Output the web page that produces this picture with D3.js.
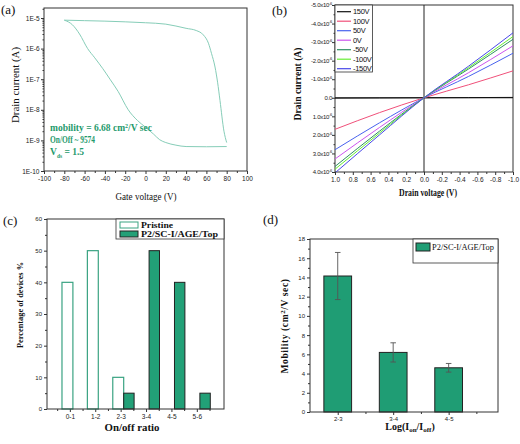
<!DOCTYPE html>
<html><head><meta charset="utf-8">
<script src="https://cdn.jsdelivr.net/npm/d3@7"></script>
<style>body{margin:0;background:#fff}svg{display:block}</style>
</head><body>
<svg id="c" width="520" height="444"></svg>
<script>
// ---------- DATA ----------
// (a) transfer curve
const fwdV = [-80,-60,-40,-20,0,20,40,50,57,62,65,68.5,71,73.4,77.3,80];
const fwdI = [8.5e-6,8.2e-6,7.9e-6,7.5e-6,7e-6,6.3e-6,4.6e-6,3.9e-6,2.8e-6,1.5e-6,7e-7,2.5e-7,8e-8,2e-8,2e-9,8.5e-10];
const revV = [-80,-72,-65,-57,-50,-42,-35,-27,-17,-8,0,8,14,20,30,40,60,80];
const revI = [8.5e-6,6e-6,3e-6,1e-6,5e-7,2.2e-7,1e-7,4e-8,1e-8,4.5e-9,2.7e-9,1.6e-9,1.05e-9,8.5e-10,7e-10,6.3e-10,6.2e-10,6.3e-10];
const aTicksX = [-100,-80,-60,-40,-20,0,20,40,60,80,100];
const aTicksY = [1e-10,1e-9,1e-8,1e-7,1e-6,1e-5];
// (b) output curves
const drainV = [1.0,0.5,0,-0.5,-1.0];
const gateLabels = ["150V","100V","50V","0V","-50V","-100V","-150V"];
const gateColors = ["#111111","#f0507a","#4862ee","#cc55ee","#2e8f62","#66ee33","#4848e8"];
const drainI = [
  [0.02e-6,0.01e-6,0,-0.01e-6,-0.02e-6],
  [1.7e-6,0.8e-6,0,-0.7e-6,-1.45e-6],
  [2.8e-6,1.35e-6,0,-1.15e-6,-2.4e-6],
  [3.3e-6,1.6e-6,0,-1.35e-6,-2.8e-6],
  [3.7e-6,1.8e-6,0,-1.55e-6,-3.15e-6],
  [3.85e-6,1.9e-6,0,-1.62e-6,-3.3e-6],
  [4.05e-6,2.0e-6,0,-1.7e-6,-3.5e-6]
];
const bTicksX = [1.0,0.8,0.6,0.4,0.2,0.0,-0.2,-0.4,-0.6,-0.8,-1.0];
const bTicksY = [-5e-6,-4e-6,-3e-6,-2e-6,-1e-6,0,1e-6,2e-6,3e-6,4e-6];
// (c) histogram
const ratioCats = ["0-1","1-2","2-3","3-4","4-5","5-6"];
const pristinePct = [40,50,10,0,0,0];
const treatedPct = [0,0,5,50,40,5];
const cTicksY = [0,10,20,30,40,50,60];
// (d) mobility
const logCats = ["2-3","3-4","4-5"];
const mobility = [14.15,6.2,4.6];
const mobErrHi = [16.6,7.2,5.05];
const mobErrLo = [11.7,5.2,4.15];
const dTicksY = [0,2,4,6,8,10,12,14,16,18];

// ---------- DRAW ----------
const svg = d3.select("#c");
const SANS = "Liberation Sans, Arial, sans-serif";
const SERIF = "Liberation Serif, Times New Roman, serif";
const green = "#22a077";

function frame(x0,y0,x1,y1){
  svg.append("rect").attr("x",x0).attr("y",y0).attr("width",x1-x0).attr("height",y1-y0)
    .attr("fill","none").attr("stroke","#333").attr("stroke-width",1);
}
function styleAxis(g,fs){
  g.select(".domain").remove();
  g.selectAll("line").attr("stroke","#333");
  g.selectAll("text").attr("font-family",SANS).attr("font-size",fs||6.5).attr("fill","#222");
}
function label(txt,x,y,opts){
  opts=opts||{};
  const t=svg.append("text").attr("x",x).attr("y",y).text(txt)
   .attr("font-family",opts.family||SERIF).attr("font-size",opts.size||10)
   .attr("font-weight",opts.weight||"normal").attr("fill",opts.fill||"#111")
   .attr("text-anchor",opts.anchor||"middle");
  if(opts.rotate) t.attr("transform",`rotate(-90,${x},${y})`);
  if(opts.len) t.attr("textLength",opts.len).attr("lengthAdjust","spacingAndGlyphs");
  return t;
}

// ===== Panel (a) =====
const xA = d3.scaleLinear().domain([-100,100]).range([44,247]);
const yA = d3.scaleLog().domain([1e-10, Math.pow(10,-4.673)]).range([171,8]);
{
  const gx = svg.append("g").attr("transform","translate(0,171)")
    .call(d3.axisBottom(xA).tickValues(aTicksX).tickSize(3).tickPadding(2).tickFormat(d=>d));
  styleAxis(gx);
  const minorX = d3.range(-90,100,20);
  styleAxis(svg.append("g").attr("transform","translate(0,171)")
    .call(d3.axisBottom(xA).tickValues(minorX).tickSize(2).tickFormat("")));
  const gy = svg.append("g").attr("transform","translate(44,0)")
    .call(d3.axisLeft(yA).tickValues(aTicksY).tickSize(3).tickPadding(1.5)
    .tickFormat(d=>"1E"+Math.round(Math.log10(d))));
  styleAxis(gy);
  const minorY=[];
  for(let e=-10;e<=-5;e++) for(let k=2;k<=9;k++){const v=k*Math.pow(10,e); if(v<Math.pow(10,-4.68)) minorY.push(v);}
  styleAxis(svg.append("g").attr("transform","translate(44,0)")
    .call(d3.axisLeft(yA).tickValues(minorY).tickSize(1.5).tickFormat("")));
  frame(44,8,247,171);
  const line = d3.line().x(d=>xA(d[0])).y(d=>yA(d[1])).curve(d3.curveMonotoneX);
  svg.append("path").attr("d",line(fwdV.map((v,i)=>[v,fwdI[i]]))).attr("fill","none").attr("stroke","#86cdb8").attr("stroke-width",1);
  svg.append("path").attr("d",line(revV.map((v,i)=>[v,revI[i]]))).attr("fill","none").attr("stroke","#86cdb8").attr("stroke-width",1);
  const tc="#1f9a6c";
  const t1=svg.append("text").attr("x",50).attr("y",131).attr("font-family",SERIF).attr("font-size",9.5).attr("font-weight","bold").attr("fill",tc);
  t1.append("tspan").text("mobility = 6.68 cm");
  t1.append("tspan").attr("font-size",6).attr("dy",-3.5).text("2");
  t1.append("tspan").attr("dy",3.5).text("/V sec");
  label("On/Off ~ 9574",50,143,{size:9.5,weight:"bold",fill:tc,anchor:"start",len:45});
  const t3=svg.append("text").attr("x",50).attr("y",155).attr("font-family",SERIF).attr("font-size",9.5).attr("font-weight","bold").attr("fill",tc);
  t3.append("tspan").text("V");
  t3.append("tspan").attr("font-size",5.5).attr("dy",2.5).text("ds");
  t3.append("tspan").attr("dy",-2.5).text(" = 1.5");
  label("Gate voltage (V)",146,200,{size:10,len:61});
  label("Drain current (A)",19,85,{size:10,rotate:true,len:76});
  label("(a)",1,14,{size:13,anchor:"start"});
}

// ===== Panel (b) =====
const xB = d3.scaleLinear().domain([1,-1]).range([335,513]);
const yB = d3.scaleLinear().domain([-5e-6,4e-6]).range([5,172]);
{
  const gx = svg.append("g").attr("transform","translate(0,172)")
    .call(d3.axisBottom(xB).tickValues(bTicksX).tickSize(3).tickPadding(2).tickFormat(d3.format(".1f")));
  styleAxis(gx,6.5);
  gx.selectAll("text").text(d=>d3.format(".1f")(d).replace("−","-"));
  styleAxis(svg.append("g").attr("transform","translate(0,172)")
    .call(d3.axisBottom(xB).tickValues(d3.range(0.9,-1,-0.2)).tickSize(2).tickFormat("")));
  const gy = svg.append("g").attr("transform","translate(335,0)")
    .call(d3.axisLeft(yB).tickValues(bTicksY).tickSize(3).tickPadding(1.5).tickFormat(""));
  styleAxis(gy);
  styleAxis(svg.append("g").attr("transform","translate(335,0)")
    .call(d3.axisLeft(yB).tickValues(d3.range(-4.5e-6,4e-6,1e-6)).tickSize(1.5).tickFormat("")));
  bTicksY.forEach(v=>{
    const t=svg.append("text").attr("x",332).attr("y",yB(v)+2.2).attr("text-anchor","end")
      .attr("font-family",SANS).attr("font-size",6).attr("fill","#222").attr("letter-spacing",-0.3);
    if(v===0){t.text("0.0");return;}
    t.append("tspan").text(d3.format(".1f")(v/1e-6).replace("−","-")+"x10");
    t.append("tspan").attr("font-size",4).attr("dy",-2.5).text("-6");
  });
  frame(335,5,513,172);
  svg.append("line").attr("x1",335).attr("x2",513).attr("y1",yB(0)).attr("y2",yB(0)).attr("stroke","#222").attr("stroke-width",1);
  svg.append("line").attr("x1",xB(0)).attr("x2",xB(0)).attr("y1",5).attr("y2",172).attr("stroke","#222").attr("stroke-width",1);
  svg.append("clipPath").attr("id","clipB").append("rect").attr("x",335).attr("y",5).attr("width",178).attr("height",167);
  const line = d3.line().x(d=>xB(d[0])).y(d=>yB(d[1])).curve(d3.curveMonotoneX);
  const gl = svg.append("g").attr("clip-path","url(#clipB)");
  drainI.forEach((s,k)=>{
    gl.append("path").attr("d",line(drainV.map((v,i)=>[v,s[i]]))).attr("fill","none")
      .attr("stroke",gateColors[k]).attr("stroke-width",1);
  });
  // legend
  svg.append("rect").attr("x",335).attr("y",5).attr("width",37.5).attr("height",67).attr("fill","#fff").attr("stroke","#333").attr("stroke-width",0.8);
  gateLabels.forEach((lb,k)=>{
    const y=11.7+k*9.5;
    svg.append("line").attr("x1",337).attr("x2",351).attr("y1",y).attr("y2",y).attr("stroke",gateColors[k]).attr("stroke-width",1.2);
    svg.append("text").attr("x",353).attr("y",y+2.6).text(lb).attr("font-family",SANS).attr("font-size",7.5).attr("fill","#111").attr("letter-spacing",-0.3);
  });
  label("Drain voltage (V)",428,196,{size:10.5,weight:"bold",len:58});
  label("Drain current (A)",301,84,{size:10.5,weight:"bold",rotate:true,len:73});
  label("(b)",272,15,{size:13,anchor:"start"});
}

// ===== Panel (c) =====
const xC = d3.scaleLinear().domain([-0.9,6.07]).range([47,224]);
const yC = d3.scaleLinear().domain([0,60]).range([409,219]);
{
  const gx = svg.append("g").attr("transform","translate(0,409)")
    .call(d3.axisBottom(xC).tickValues(d3.range(0,6)).tickSize(3).tickPadding(2).tickFormat(i=>ratioCats[i]));
  styleAxis(gx,6.5);
  styleAxis(svg.append("g").attr("transform","translate(0,409)")
    .call(d3.axisBottom(xC).tickValues(d3.range(-0.5,6,1)).tickSize(2).tickFormat("")));
  const gy = svg.append("g").attr("transform","translate(47,0)")
    .call(d3.axisLeft(yC).tickValues(cTicksY).tickSize(3).tickPadding(2));
  styleAxis(gy,6);
  styleAxis(svg.append("g").attr("transform","translate(47,0)")
    .call(d3.axisLeft(yC).tickValues(d3.range(5,60,10)).tickSize(2).tickFormat("")));
  ratioCats.forEach((c,i)=>{
    if(pristinePct[i]>0) svg.append("rect").attr("x",xC(i-0.31)).attr("y",yC(pristinePct[i]))
      .attr("width",xC(i+0.12)-xC(i-0.31)).attr("height",yC(0)-yC(pristinePct[i]))
      .attr("fill","#fff").attr("stroke","#3aa382").attr("stroke-width",1.2);
    if(treatedPct[i]>0) svg.append("rect").attr("x",xC(i+0.12)).attr("y",yC(treatedPct[i]))
      .attr("width",xC(i+0.53)-xC(i+0.12)).attr("height",yC(0)-yC(treatedPct[i]))
      .attr("fill",green).attr("stroke","#222").attr("stroke-width",1);
  });
  frame(47,219,224,409);
  svg.append("rect").attr("x",116).attr("y",219).attr("width",108).attr("height",20).attr("fill","#fff").attr("stroke","#333").attr("stroke-width",0.8);
  svg.append("rect").attr("x",120).attr("y",222).attr("width",18).attr("height",6).attr("fill","#fff").attr("stroke","#3aa382").attr("stroke-width",1);
  svg.append("rect").attr("x",120).attr("y",231).attr("width",18).attr("height",6).attr("fill",green).attr("stroke","#222").attr("stroke-width",1);
  label("Pristine",141,228,{size:8.5,weight:"bold",anchor:"start",len:32});
  label("P2/SC-I/AGE/Top",141,237,{size:8.5,weight:"bold",anchor:"start",len:77});
  label("On/off ratio",132,431,{size:10,weight:"bold",len:55});
  label("Percentage of devices %",23,305,{size:9,weight:"bold",rotate:true,len:86});
  label("(c)",3,225,{size:13,anchor:"start"});
}

// ===== Panel (d) =====
const xD = d3.scaleLinear().domain([-0.5,2.89]).range([310,498]);
const yD = d3.scaleLinear().domain([0,18]).range([412,239]);
{
  const gx = svg.append("g").attr("transform","translate(0,412)")
    .call(d3.axisBottom(xD).tickValues([0,1,2]).tickSize(3).tickPadding(2).tickFormat(i=>logCats[i]));
  styleAxis(gx,6);
  styleAxis(svg.append("g").attr("transform","translate(0,412)")
    .call(d3.axisBottom(xD).tickValues([0.5,1.5,2.5]).tickSize(2).tickFormat("")));
  const gy = svg.append("g").attr("transform","translate(310,0)")
    .call(d3.axisLeft(yD).tickValues(dTicksY).tickSize(3).tickPadding(2));
  styleAxis(gy,6);
  styleAxis(svg.append("g").attr("transform","translate(310,0)")
    .call(d3.axisLeft(yD).tickValues(d3.range(1,18,2)).tickSize(2).tickFormat("")));
  logCats.forEach((c,i)=>{
    svg.append("rect").attr("x",xD(i-0.25)).attr("y",yD(mobility[i]))
      .attr("width",xD(i+0.25)-xD(i-0.25)).attr("height",yD(0)-yD(mobility[i]))
      .attr("fill","#1f9d74").attr("stroke","#222").attr("stroke-width",1);
    const cx=xD(i);
    svg.append("line").attr("x1",cx).attr("x2",cx).attr("y1",yD(mobErrHi[i])).attr("y2",yD(mobErrLo[i])).attr("stroke","#555").attr("stroke-width",0.9);
    [mobErrHi[i],mobErrLo[i]].forEach(v=>svg.append("line").attr("x1",xD(i-0.05)).attr("x2",xD(i+0.05)).attr("y1",yD(v)).attr("y2",yD(v)).attr("stroke","#555").attr("stroke-width",0.9));
  });
  frame(310,239,498,412);
  svg.append("rect").attr("x",413).attr("y",239).attr("width",85).attr("height",24).attr("fill","#fff").attr("stroke","#333").attr("stroke-width",0.8);
  svg.append("rect").attr("x",416).attr("y",243).attr("width",14).attr("height",8).attr("fill","#1f9d74").attr("stroke","#222").attr("stroke-width",1);
  label("P2/SC-I/AGE/Top",432,250,{size:8.5,anchor:"start",len:62});
  const ty=svg.append("text").attr("x",410).attr("y",430).attr("text-anchor","middle").attr("font-family",SERIF).attr("font-size",10).attr("font-weight","bold").attr("fill","#111");
  ty.append("tspan").text("Log(I");
  ty.append("tspan").attr("font-size",7).attr("dy",2).text("on");
  ty.append("tspan").attr("dy",-2).text("/I");
  ty.append("tspan").attr("font-size",7).attr("dy",2).text("off");
  ty.append("tspan").attr("dy",-2).text(")");
  const tm=svg.append("text").attr("x",288).attr("y",326).attr("text-anchor","middle").attr("font-family",SERIF).attr("font-size",9.5).attr("font-weight","bold").attr("fill","#111").attr("letter-spacing",0.6)
    .attr("transform","rotate(-90,288,326)");
  tm.append("tspan").text("Mobility (cm");
  tm.append("tspan").attr("font-size",7).attr("dy",-3.5).text("2");
  tm.append("tspan").attr("dy",3.5).text("/V sec)");
  label("(d)",263,224,{size:13,anchor:"start"});
}
</script>
</body></html>
